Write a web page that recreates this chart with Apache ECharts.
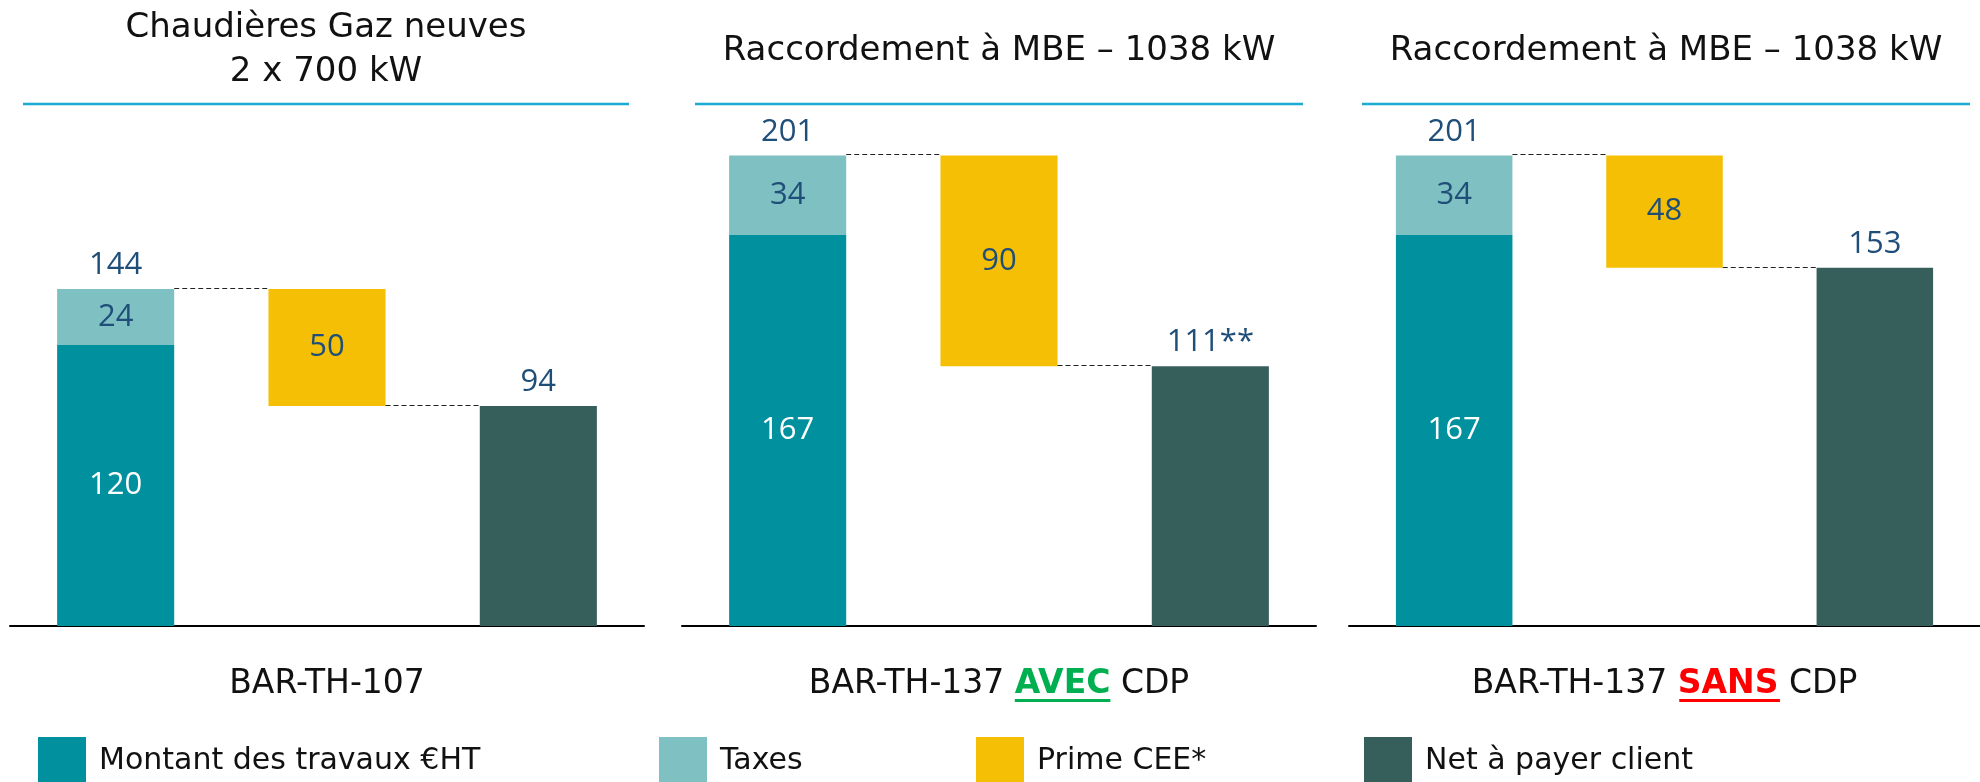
<!DOCTYPE html>
<html>
<head>
<meta charset="utf-8">
<script src="https://cdn.jsdelivr.net/npm/echarts@6/dist/echarts.min.js"></script>
<style>
  html, body { margin: 0; padding: 0; background: #fff; }
  #chart { width: 1980px; height: 782px; }
</style>
</head>
<body>
<div id="chart"></div>
<script>
// one panel per scheme
const panelTitles = ['Chaudières Gaz neuves\n2 x 700 kW', 'Raccordement à MBE – 1038 kW', 'Raccordement à MBE – 1038 kW']
const schemes = ['BAR-TH-107', 'BAR-TH-137', 'BAR-TH-137']
const schemeTags = ['', 'AVEC', 'SANS']
const steps = ['Travaux', 'Prime', 'Net']

const montant = [120, 167, 167]
const taxes = [24, 34, 34]
const totals = [144, 201, 201]
const prime = [50, 90, 48]
const net = [94, 111, 153]
const netLabels = ['94', '111**', '153']

const seriesNames = ['Montant des travaux €HT', 'Taxes', 'Prime CEE*', 'Net à payer client']
const colors = ['#00909E', '#7FC0C2', '#F5BF05', '#365F5C']

const chart = echarts.init(document.getElementById('chart'))

const FONT = 'DejaVu Sans'
const NUM_FONT = 'Open Sans'
const labelBlue = '#1F4E79'
const gridLefts = [10, 682, 1349]
const panelW = 634
const lineSpans = [[23, 629], [695, 1303], [1362, 1970]]
const catSize = 33

const grids = [], xAxes = [], yAxes = [], series = [], titles = [], graphics = []

// measure text for the underline under AVEC / SANS
const ctx = document.createElement('canvas').getContext('2d')

for (let i = 0; i < 3; i++) {
  grids.push({left: gridLefts[i], width: panelW, top: 111, height: 515})

  let name = schemes[i]
  if (schemeTags[i]) {
    const tagStyle = i === 1 ? 'green' : 'red'
    name = schemes[i] + ' {' + tagStyle + '|' + schemeTags[i] + '} CDP'
  }
  xAxes.push({
    type: 'category', gridIndex: i, data: steps,
    axisTick: {show: false}, axisLabel: {show: false},
    axisLine: {lineStyle: {color: '#000', width: 2}},
    name: name, nameLocation: 'middle', nameGap: 38,
    nameTextStyle: {
      fontFamily: FONT, fontSize: catSize, color: '#111', lineHeight: 40,
      rich: {
        green: {fontFamily: FONT, fontSize: catSize, fontWeight: 'bold', color: '#00B050', lineHeight: 40},
        red: {fontFamily: FONT, fontSize: catSize, fontWeight: 'bold', color: '#FF0000', lineHeight: 40}
      }
    }
  })
  yAxes.push({type: 'value', gridIndex: i, min: 0, max: 220, show: false, splitLine: {show: false}})

  const stack = 'w' + i
  const bw = '55.4%'
  // invisible base so the prime floats above the net amount
  series.push({
    type: 'bar', xAxisIndex: i, yAxisIndex: i, stack, barWidth: bw, silent: true,
    itemStyle: {color: 'transparent'},
    data: ['-', net[i], '-']
  })
  series.push({
    name: seriesNames[0], type: 'bar', xAxisIndex: i, yAxisIndex: i, stack, barWidth: bw,
    itemStyle: {color: colors[0]},
    label: {show: true, position: 'inside', color: '#fff', fontFamily: NUM_FONT, fontSize: 31},
    data: [montant[i], '-', '-']
  })
  series.push({
    name: seriesNames[1], type: 'bar', xAxisIndex: i, yAxisIndex: i, stack, barWidth: bw,
    itemStyle: {color: colors[1]},
    label: {show: true, position: 'inside', color: labelBlue, fontFamily: NUM_FONT, fontSize: 31},
    data: [taxes[i], '-', '-']
  })
  // zero height bar that only carries the total label
  series.push({
    type: 'bar', xAxisIndex: i, yAxisIndex: i, stack, barWidth: bw, silent: true,
    itemStyle: {color: 'transparent'},
    label: {
      show: true, position: 'top', distance: 8, color: labelBlue, fontFamily: NUM_FONT, fontSize: 31,
      formatter: () => String(totals[i])
    },
    data: [0, '-', '-']
  })
  series.push({
    name: seriesNames[2], type: 'bar', xAxisIndex: i, yAxisIndex: i, stack, barWidth: bw,
    itemStyle: {color: colors[2]},
    label: {show: true, position: 'inside', color: labelBlue, fontFamily: NUM_FONT, fontSize: 31},
    data: ['-', prime[i], '-']
  })
  series.push({
    name: seriesNames[3], type: 'bar', xAxisIndex: i, yAxisIndex: i, stack, barWidth: bw,
    itemStyle: {color: colors[3]},
    label: {
      show: true, position: 'top', distance: 8, color: labelBlue, fontFamily: NUM_FONT, fontSize: 31,
      formatter: () => netLabels[i]
    },
    data: ['-', '-', net[i]]
  })
  // dashed connectors between the steps
  series.push({
    type: 'custom', xAxisIndex: i, yAxisIndex: i, silent: true, z: 5,
    data: [[0, 1, totals[i]], [1, 2, net[i]]],
    renderItem: function (params, api) {
      const a = api.coord([api.value(0), api.value(2)])
      const b = api.coord([api.value(1), api.value(2)])
      const half = api.size([1, 0])[0] * 0.554 / 2
      const y = Math.round(a[1]) - 0.5
      return {
        type: 'line',
        shape: {x1: a[0] + half, y1: y, x2: b[0] - half, y2: y},
        style: {stroke: '#222', lineWidth: 1, lineDash: [5, 3]}
      }
    }
  })

  const cx = gridLefts[i] + panelW / 2
  titles.push({
    text: panelTitles[i], left: (lineSpans[i][0] + lineSpans[i][1]) / 2, top: i === 0 ? 6 : 29,
    textAlign: 'center', padding: 0,
    textStyle: {fontFamily: FONT, fontSize: 34, fontWeight: 'normal', color: '#111', lineHeight: 44}
  })
  graphics.push({
    type: 'line', silent: true,
    shape: {x1: lineSpans[i][0], y1: 104, x2: lineSpans[i][1], y2: 104},
    style: {stroke: '#1AAAD4', lineWidth: 2.5}
  })

  if (schemeTags[i]) {
    ctx.font = catSize + 'px "' + FONT + '"'
    const pre = ctx.measureText(schemes[i] + ' ').width
    const post = ctx.measureText(' CDP').width
    ctx.font = 'bold ' + catSize + 'px "' + FONT + '"'
    const tag = ctx.measureText(schemeTags[i]).width
    const x0 = cx - (pre + tag + post) / 2 + pre
    graphics.push({
      type: 'rect', silent: true,
      shape: {x: x0, y: 699, width: tag, height: 3},
      style: {fill: i === 1 ? '#00B050' : '#FF0000'}
    })
  }
}

const legendLefts = [38, 659, 976, 1364]
const legends = seriesNames.map((n, k) => ({
  data: [n], left: legendLefts[k], top: 737, padding: 0,
  itemWidth: 48, itemHeight: 48, icon: 'rect', selectedMode: false,
  textStyle: {fontFamily: FONT, fontSize: 30, color: '#111', padding: [0, 0, 0, 8]}
}))

chart.setOption({
  animation: false,
  color: colors,
  title: titles,
  grid: grids,
  xAxis: xAxes,
  yAxis: yAxes,
  legend: legends,
  series: series,
  graphic: graphics
})
</script>
</body>
</html>
